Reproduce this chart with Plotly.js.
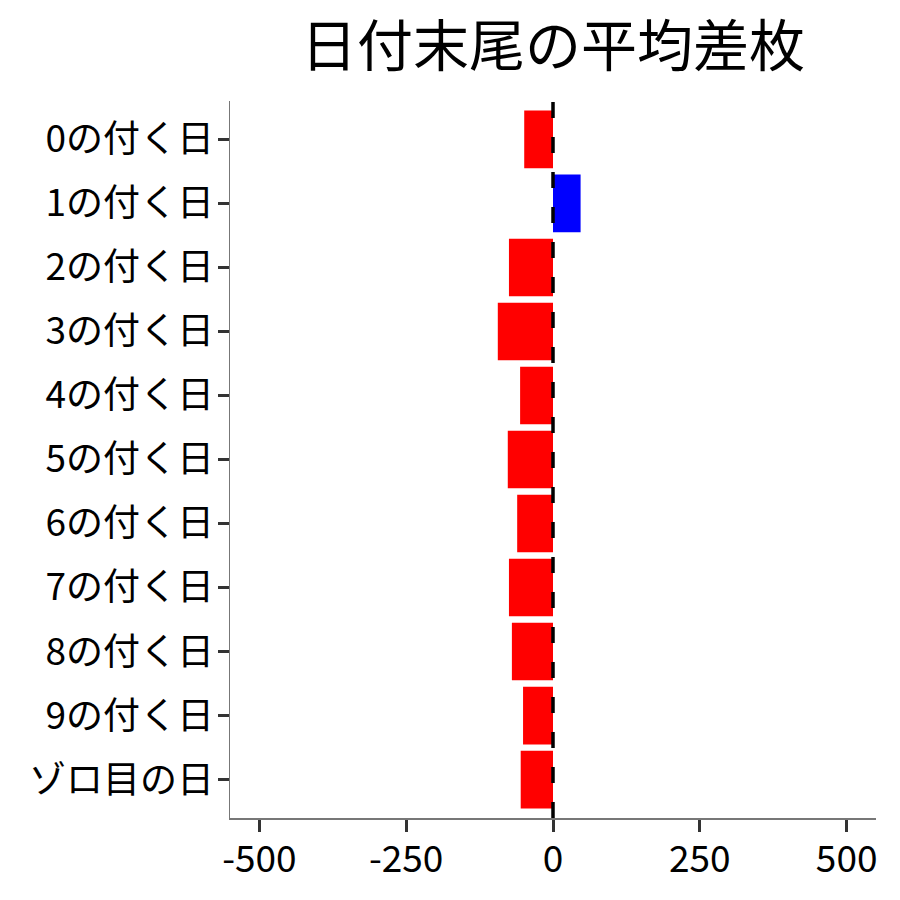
<!DOCTYPE html>
<html>
<head>
<meta charset="utf-8">
<script src="https://cdn.plot.ly/plotly-3.0.1.min.js"></script>
<style>body{margin:0;background:#fff}#chart{width:900px;height:900px}</style>
</head>
<body>
<div id="chart"></div>
<script>
const categories = ["0の付く日","1の付く日","2の付く日","3の付く日","4の付く日","5の付く日","6の付く日","7の付く日","8の付く日","9の付く日","ゾロ目の日"];
const values = [-49, 47, -75, -94, -56, -77, -61, -75, -70, -51, -55];
const xTicks = [-500, -250, 0, 250, 500];
const titleText = "日付末尾の平均差枚";

const colors = values.map(v => v >= 0 ? "#0000FF" : "#FF0000");
const font = "Noto Sans CJK JP, Noto Sans, sans-serif";

const trace = {
  type: "bar",
  orientation: "h",
  x: values,
  y: categories,
  marker: {color: colors, line: {width: 0}},
  hoverinfo: "none"
};

const layout = {
  width: 900, height: 900,
  paper_bgcolor: "#fff", plot_bgcolor: "#fff",
  margin: {l: 230, r: 24, t: 101, b: 82},
  bargap: 0.1,
  showlegend: false,
  font: {family: font, color: "#000"},
  title: {text: titleText, font: {family: font, size: 56, color: "#000"}, x: 0.5, xref: "paper", y: 0.948, yanchor: "middle"},
  xaxis: {
    range: [-550, 550], tickvals: xTicks, ticktext: xTicks.map(String),
    showgrid: false, zeroline: false,
    showline: true, linecolor: "#777", linewidth: 1.5,
    ticks: "outside", ticklen: 12, tickwidth: 3, tickcolor: "#333",
    ticklabelstandoff: -4,
    tickfont: {family: font, size: 37, color: "#000"}
  },
  yaxis: {
    type: "category", categoryorder: "array", categoryarray: categories,
    range: [10.6, -0.6],
    showgrid: false, zeroline: false,
    showline: true, linecolor: "#777", linewidth: 1.5,
    ticks: "outside", ticklen: 11, tickwidth: 3, tickcolor: "#333",
    ticklabelstandoff: -4,
    tickfont: {family: font, size: 37, color: "#000"}
  },
  shapes: [{
    type: "line", xref: "x", yref: "paper", x0: 0, x1: 0, y0: 0, y1: 1,
    line: {color: "#000", width: 3.5, dash: "16px,19px"}, layer: "above"
  }]
};

Plotly.newPlot("chart", [trace], layout, {displayModeBar: false, staticPlot: true});
</script>
</body>
</html>
